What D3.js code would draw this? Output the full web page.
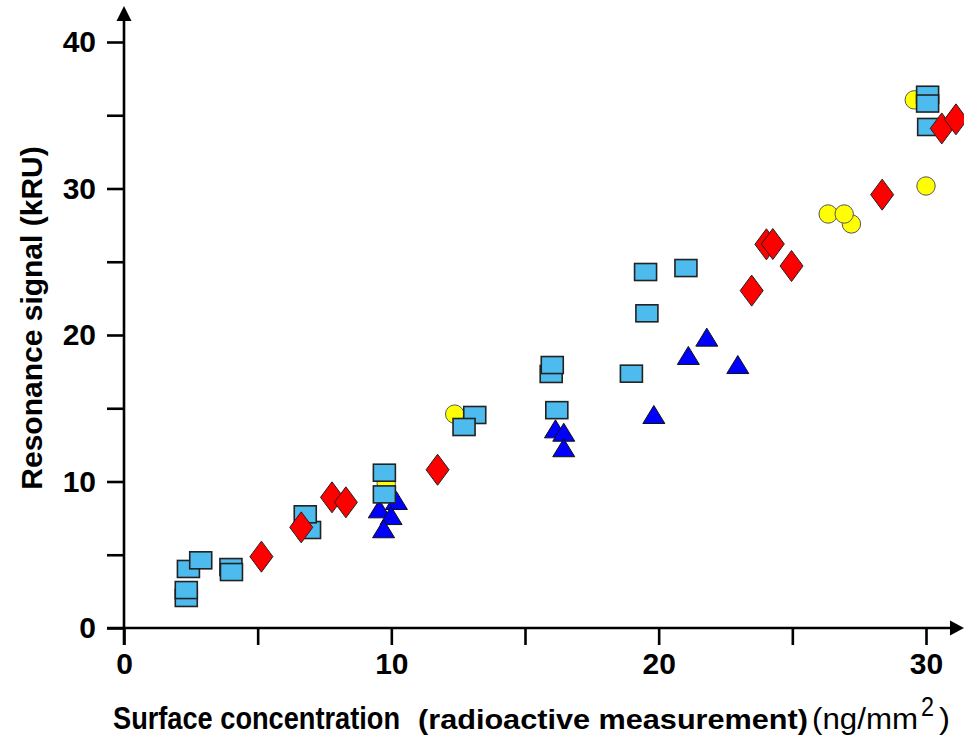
<!DOCTYPE html>
<html>
<head>
<meta charset="utf-8">
<script src="https://cdn.jsdelivr.net/npm/d3@7"></script>
<style>
  html, body { margin: 0; padding: 0; background: #fff; }
  svg { display: block; }
  text { font-family: "Liberation Sans", Arial, sans-serif; fill: #000; }
</style>
</head>
<body>
<svg id="chart" width="964" height="735"></svg>
<script>
// ---- data ----
const squares = [ // light blue squares [x, y]
  [2.41, 4.03], [2.87, 4.62], [2.33, 2.05], [2.33, 2.59],
  [4.0, 4.16], [4.02, 3.82], [6.94, 6.69], [6.78, 7.76],
  [9.74, 10.6], [9.74, 9.12], [13.12, 14.54], [12.72, 13.72],
  [15.98, 17.34], [16.02, 17.95], [16.19, 14.87], [18.98, 17.36],
  [19.51, 24.3], [21.02, 24.57], [19.56, 21.48],
  [30.06, 36.4], [30.06, 35.8], [30.1, 34.2]
];
const circles = [ // yellow circles
  [9.81, 9.87], [12.37, 14.6], [27.21, 27.58], [26.34, 28.26],
  [26.94, 28.26], [30.0, 30.17], [29.56, 36.05]
];
const triangles = [ // blue triangles
  [9.55, 8.1], [10.19, 8.67], [9.99, 7.64], [9.71, 6.74],
  [16.14, 13.56], [16.45, 13.33], [16.45, 12.27],
  [19.82, 14.54], [21.11, 18.57], [21.8, 19.82], [22.96, 17.95]
];
const diamonds = [ // red diamonds
  [5.14, 4.87], [6.63, 6.87], [7.78, 8.92], [8.3, 8.58], [11.73, 10.8],
  [23.48, 23.03], [24.03, 26.19], [24.27, 26.21], [24.97, 24.71],
  [28.36, 29.58], [30.59, 34.1], [31.12, 34.72]
];
const xTicks = [0, 5, 10, 15, 20, 25, 30];
const yTicks = [0, 5, 10, 15, 20, 25, 30, 35, 40];
const xLabels = [0, 10, 20, 30];
const yLabels = [0, 10, 20, 30, 40];

// ---- layout ----
const svg = d3.select("#chart");
const x = d3.scaleLinear().domain([0, 30]).range([124, 926]);
const y = d3.scaleLinear().domain([0, 40]).range([628, 42]);
const tickLen = 17;
const fmtX = d => xLabels.includes(d) ? d : "";
const fmtY = d => yLabels.includes(d) ? d : "";

svg.append("rect").attr("width", 964).attr("height", 735).attr("fill", "#fff");

// axes (ticks + labels)
const gx = svg.append("g").attr("transform", `translate(0,${y(0)})`)
  .call(d3.axisBottom(x).tickValues(xTicks).tickSize(tickLen).tickPadding(8).tickFormat(fmtX));
const gy = svg.append("g").attr("transform", `translate(${x(0)},0)`)
  .call(d3.axisLeft(y).tickValues(yTicks).tickSize(tickLen).tickPadding(11).tickFormat(fmtY));
[gx, gy].forEach(g => {
  g.select(".domain").remove();
  g.selectAll(".tick line").attr("stroke", "#000").attr("stroke-width", 2.6);
  g.selectAll(".tick text").attr("font-size", 30).attr("font-weight", "bold")
    .attr("font-family", '"Liberation Sans", Arial, sans-serif').attr("fill", "#000");
});

// axis lines with arrow heads
const x0 = x(0), y0 = y(0);
svg.append("line").attr("x1", x0).attr("x2", x0).attr("y1", y0 + tickLen).attr("y2", 20)
  .attr("stroke", "#000").attr("stroke-width", 2.6);
svg.append("path").attr("d", `M${x0},6 L${x0 - 7.5},21 L${x0 + 7.5},21 Z`).attr("fill", "#000");
svg.append("line").attr("x1", x0 - tickLen).attr("x2", 952).attr("y1", y0).attr("y2", y0)
  .attr("stroke", "#000").attr("stroke-width", 2.6);
svg.append("path").attr("d", `M964,${y0} L950,${y0 - 7.5} L950,${y0 + 7.5} Z`).attr("fill", "#000");

// markers
const sym = svg.append("g");
sym.selectAll("circle.c").data(circles).join("circle")
  .attr("cx", d => x(d[0])).attr("cy", d => y(d[1])).attr("r", 9.2)
  .attr("fill", "#ffff00").attr("stroke", "#555").attr("stroke-width", 1);
sym.selectAll("path.t").data(triangles).join("path")
  .attr("d", d => { const cx = x(d[0]), cy = y(d[1]);
    return `M${cx},${cy - 9.5} L${cx + 11},${cy + 8.5} L${cx - 11},${cy + 8.5} Z`; })
  .attr("fill", "#0000ff").attr("stroke", "#111").attr("stroke-width", 1);
sym.selectAll("rect.s").data(squares).join("rect")
  .attr("x", d => x(d[0]) - 11).attr("y", d => y(d[1]) - 8.5)
  .attr("width", 22).attr("height", 17)
  .attr("fill", "#4dbbee").attr("stroke", "#222").attr("stroke-width", 1.6);
sym.selectAll("path.d").data(diamonds).join("path")
  .attr("d", d => { const cx = x(d[0]), cy = y(d[1]);
    return `M${cx},${cy - 15.5} L${cx + 11.5},${cy} L${cx},${cy + 15.5} L${cx - 11.5},${cy} Z`; })
  .attr("fill", "#ff0000").attr("stroke", "#222").attr("stroke-width", 1);

// titles
svg.append("text").attr("transform", "translate(42,318) rotate(-90)")
  .attr("text-anchor", "middle").attr("font-size", 30).attr("font-weight", "bold")
  .text("Resonance signal (kRU)");

const xt = svg.append("g");
xt.append("text").attr("x", 113).attr("y", 729).attr("font-size", 31).attr("font-weight", "bold")
  .attr("textLength", 287).attr("lengthAdjust", "spacingAndGlyphs").text("Surface concentration");
xt.append("text").attr("x", 418).attr("y", 729).attr("font-size", 27).attr("font-weight", "bold")
  .attr("textLength", 390).attr("lengthAdjust", "spacingAndGlyphs").text("(radioactive measurement)");
xt.append("text").attr("x", 812).attr("y", 729).attr("font-size", 30)
  .attr("textLength", 106).attr("lengthAdjust", "spacingAndGlyphs").text("(ng/mm");
xt.append("text").attr("x", 921).attr("y", 716).attr("font-size", 28)
  .attr("textLength", 13).attr("lengthAdjust", "spacingAndGlyphs").text("2");
xt.append("text").attr("x", 939).attr("y", 729).attr("font-size", 30)
  .attr("textLength", 11).attr("lengthAdjust", "spacingAndGlyphs").text(")");
</script>
</body>
</html>
